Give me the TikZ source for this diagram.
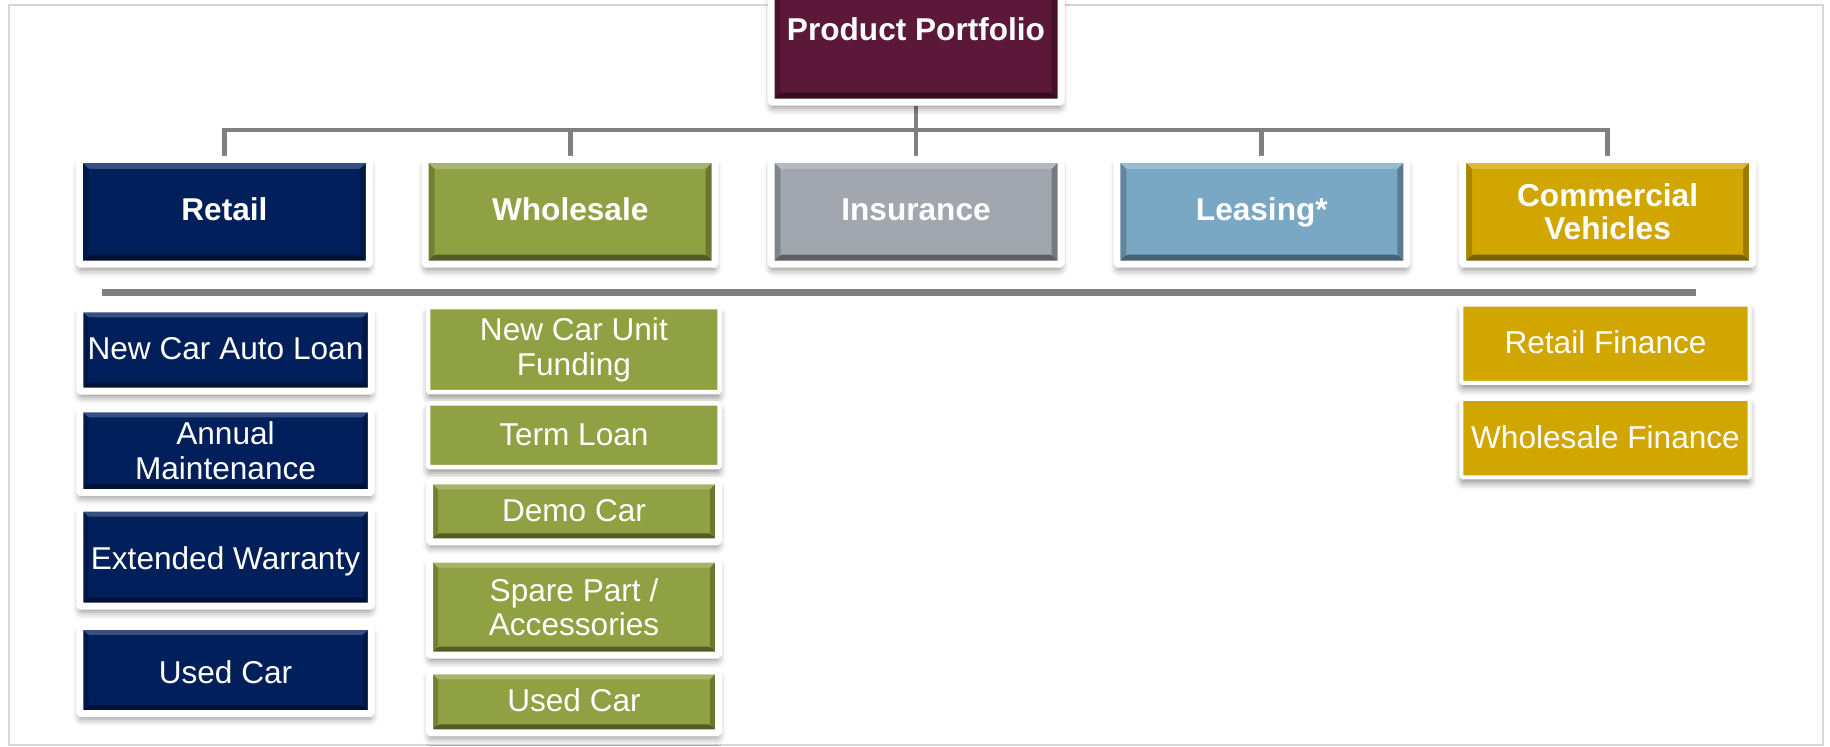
\documentclass[tikz,border=0pt]{standalone}
\usepackage{fontspec}
\setmainfont{Liberation Sans}
\usetikzlibrary{shadows.blur,backgrounds}

\definecolor{portfolio}{RGB}{92,24,56}
\definecolor{navy}{RGB}{0,31,91}
\definecolor{olive}{RGB}{143,161,67}
\definecolor{slate}{RGB}{161,166,175}
\definecolor{sky}{RGB}{122,168,196}
\definecolor{gold}{RGB}{210,166,0}
\definecolor{linkgray}{RGB}{127,127,127}
\definecolor{framegray}{RGB}{214,214,214}

\tikzset{
  card/.style={rectangle, inner sep=0pt, draw=white, fill=#1, text=white,
    align=center, rounded corners=0.8pt,
    blur shadow={shadow xshift=0pt, shadow yshift=-2.8pt,
      shadow blur radius=3.5pt, shadow opacity=45}},
  rim/.style={line width=#1},
  plain/.style={font=\fontsize{15.8}{17.4}\selectfont},
  head/.style={font=\bfseries\fontsize{15.8}{16.6}\selectfont},
  headline/.style={text height=11pt, text depth=2.15pt},
  oneline/.style={text height=11.5pt, text depth=1.5pt},
  bevel/.style={path picture={
    \fill[white,opacity=.22] (path picture bounding box.north west)
      -- (path picture bounding box.north east)
      -- ([shift={(-#1,-#1)}]path picture bounding box.north east)
      -- ([shift={(#1,-#1)}]path picture bounding box.north west) -- cycle;
    \fill[black,opacity=.42] (path picture bounding box.south west)
      -- (path picture bounding box.south east)
      -- ([shift={(-#1,#1)}]path picture bounding box.south east)
      -- ([shift={(#1,#1)}]path picture bounding box.south west) -- cycle;
    \fill[black,opacity=.2] (path picture bounding box.north west)
      -- ([shift={(#1,-#1)}]path picture bounding box.north west)
      -- ([shift={(#1,#1)}]path picture bounding box.south west)
      -- (path picture bounding box.south west) -- cycle;
    \fill[black,opacity=.26] (path picture bounding box.north east)
      -- ([shift={(-#1,-#1)}]path picture bounding box.north east)
      -- ([shift={(-#1,#1)}]path picture bounding box.south east)
      -- (path picture bounding box.south east) -- cycle;
  }},
  link/.style={draw=linkgray, line width=2.35pt}
}

\begin{document}
\begin{tikzpicture}[x=0.5pt,y=-0.5pt]
\useasboundingbox (0,0) rectangle (1830,747);

% outer frame
\draw[framegray, line width=1pt] (9,5) rectangle (1823,745);

% separator bar under the category row
\fill[linkgray] (102,288.7) rectangle (1695.5,296);

% top of the tree
\node[card=portfolio, rim=3.5pt, head, bevel=4.75pt,
      minimum width=145pt, minimum height=72.85pt] (pp) at (916,29.35) {Product Portfolio};

% product categories
\begin{scope}[every node/.append style={rim=3.5pt, bevel=4.75pt,
      minimum width=145pt, minimum height=52.35pt}]
  \node[card=navy, head, headline]  (retail)    at (224.4,211.85)  {Retail};
  \node[card=olive, head, headline] (wholesale) at (570.2,211.85)  {Wholesale};
  \node[card=slate, head, headline] (insurance) at (916.0,211.85)  {Insurance};
  \node[card=sky, head, headline]   (leasing)   at (1261.8,211.85) {Leasing*};
  \node[card=gold, head]            (cv)        at (1607.6,211.85) {Commercial\\Vehicles};
\end{scope}

% retail products
\begin{scope}[every node/.append style={rim=3.5pt, bevel=4.25pt, minimum width=145.75pt}]
  \node[card=navy, plain, oneline, minimum height=41.2pt]  (r1) at (225.5,350)   {New Car Auto Loan};
  \node[card=navy, plain, minimum height=41.85pt]          (r2) at (225.5,450.7) {Annual\\Maintenance};
  \node[card=navy, plain, text height=12.8pt, text depth=0pt, minimum height=49pt]
                                                           (r3) at (225.5,557.2) {Extended Warranty};
  \node[card=navy, plain, text height=13.3pt, text depth=0pt, minimum height=43.5pt]
                                                           (r4) at (225.5,670)   {Used Car};
\end{scope}

% wholesale products
\begin{scope}[every node/.append style={rim=2.25pt, minimum width=145.75pt}]
  \node[card=olive, plain, minimum height=42.6pt]          (w1) at (573.9,349.65) {New Car Unit\\Funding};
  \node[card=olive, plain, oneline, minimum height=31.9pt] (w2) at (573.9,435.35) {Term Loan};
\end{scope}
\begin{scope}[every node/.append style={rim=3.5pt, bevel=4.25pt, minimum width=144.5pt}]
  \node[card=olive, plain, oneline, minimum height=30.5pt] (w3) at (574,511.3) {Demo Car};
  \node[card=olive, plain, minimum height=48pt]            (w4) at (574,607.2) {Spare Part /\\Accessories};
  \node[card=olive, plain, oneline, minimum height=31pt]   (w5) at (574,701.8) {Used Car};
\end{scope}

% commercial vehicle products
\begin{scope}[every node/.append style={rim=2pt, minimum width=144.2pt, minimum height=39.15pt}]
  \node[card=gold, plain, oneline] (c1) at (1605.5,343.85) {Retail Finance};
  \node[card=gold, plain, oneline] (c2) at (1605.5,438.15) {Wholesale Finance};
\end{scope}

% connectors from the top box to the categories
\coordinate (bus) at (916,130);
\begin{scope}[on background layer]
  \draw[link] (pp.south) -- (bus);
  \draw[link] (bus) -| (retail.north);
  \draw[link] (bus) -| (wholesale.north);
  \draw[link] (bus) -- (insurance.north);
  \draw[link] (bus) -| (leasing.north);
  \draw[link] (bus) -| (cv.north);
\end{scope}
\end{tikzpicture}
\end{document}
